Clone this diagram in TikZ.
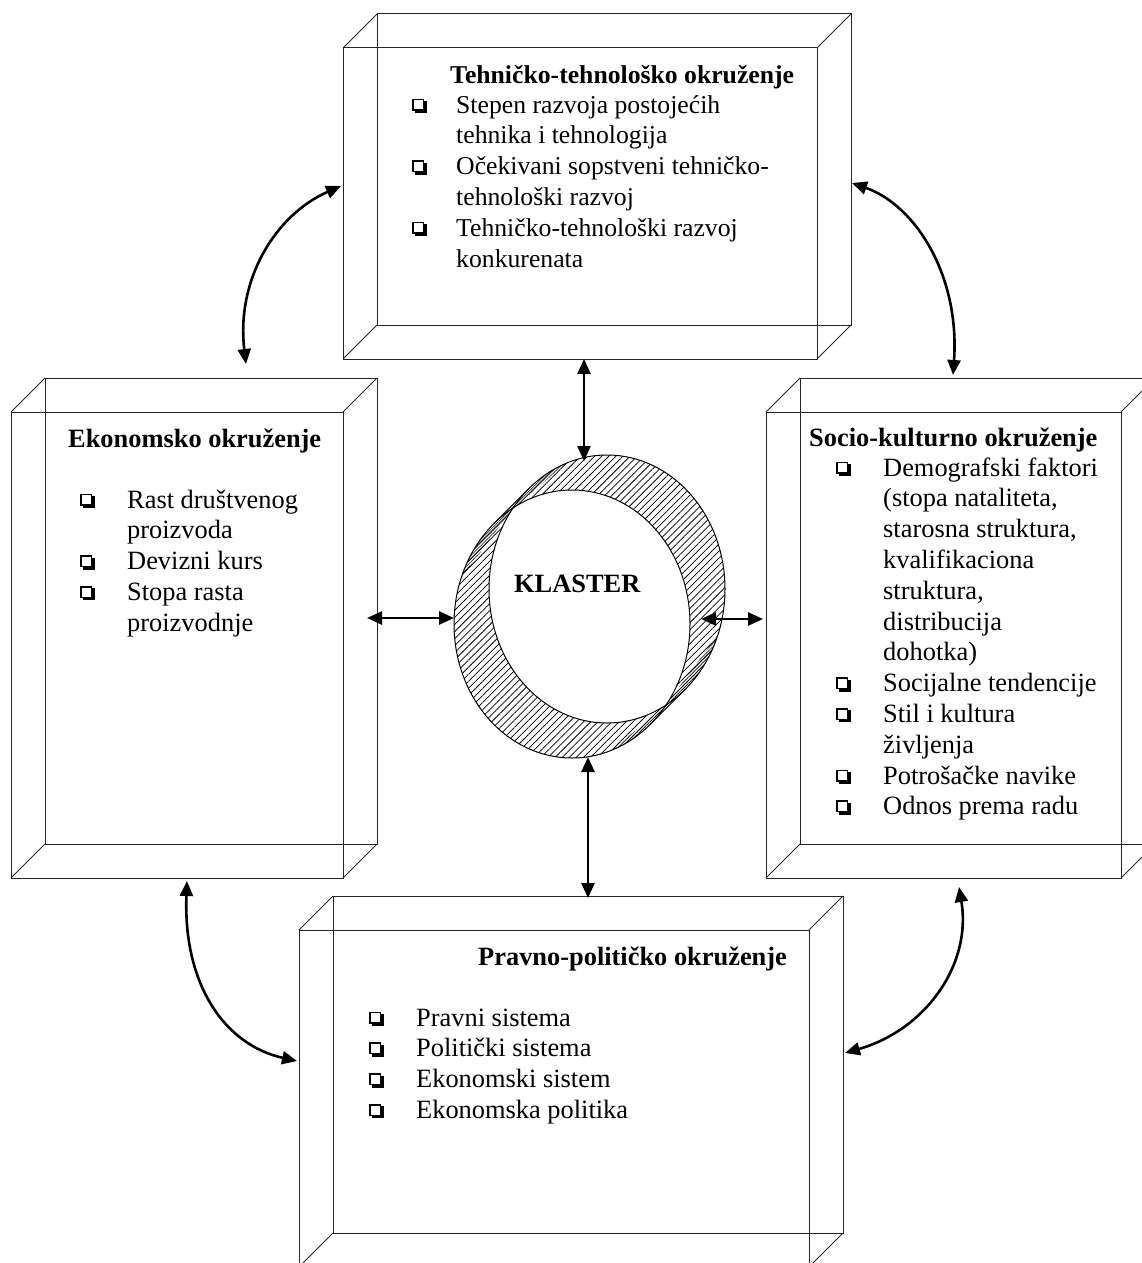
\documentclass[tikz,border=0pt]{standalone}
\usepackage{fontspec}
\setmainfont{Liberation Serif}
\usetikzlibrary{arrows.meta,patterns.meta}

% hollow square bullet with a drop shadow
\newcommand\sqbul{{\setlength{\unitlength}{1pt}\begin{picture}(15,14)
\put(0,2.4){\rule{12pt}{1.5pt}}
\put(0,12.9){\rule{12pt}{1.5pt}}
\put(0,2.4){\rule{1.5pt}{12pt}}
\put(10.5,2.4){\rule{1.5pt}{12pt}}
\put(2.4,0){\rule{12.4pt}{2.6pt}}
\put(12,0){\rule{2.8pt}{12pt}}
\end{picture}}}

% bullet list: #1 = distance from bullet to text, #2 = rows
\newcommand\bulletrows[2]{\begin{tabular}[t]{@{}p{#1}@{}l@{}}#2\end{tabular}}

\begin{document}
\begin{tikzpicture}[x=1pt,y=-1pt,
  frontface/.style={draw=black!85, line width=1pt, inner sep=0pt, outer sep=0pt},
  edgeline/.style={draw=black!85, line width=1pt},
  heading/.style={anchor=base west, inner sep=0pt, font=\bfseries\fontsize{26.4}{30.8}\selectfont},
  bulletlist/.style={anchor=base west, inner sep=0pt, font=\fontsize{26.4}{30.8}\selectfont},
  link/.style={line width=2.6pt, {Triangle[length=15pt,width=13pt]}-{Triangle[length=15pt,width=13pt]}},
  hatch/.style={pattern={Lines[angle=45,distance=5pt,line width=0.75pt]}},
  densehatch/.style={pattern={Lines[angle=45,distance=2.2pt,line width=0.6pt]}},
]
\useasboundingbox (0,0) rectangle (1142,1263);
\begin{scope}
\clip (0,0) rectangle (1142,1263);

% front faces of the four boxes
\node[frontface, minimum width=474pt, minimum height=311pt] (tech) at (580,203.5) {};
\node[frontface, minimum width=332pt, minimum height=466pt] (ekon) at (177,645) {};
\node[frontface, minimum width=355pt, minimum height=466pt] (socio) at (943.5,645) {};
\node[frontface, minimum width=510pt, minimum height=337pt] (pravno) at (554,1098.5) {};

% back faces and depth edges
\foreach \b in {tech,ekon,socio,pravno}{
  \draw[edgeline] ([shift={(34,-34)}]\b.south west) rectangle ([shift={(34,-34)}]\b.north east);
  \foreach \c in {north west,north east,south west,south east}
    \draw[edgeline] (\b.\c) -- ([shift={(34,-34)}]\b.\c);
}

% texts of the boxes
\node[heading, font=\bfseries\fontsize{25.7}{30.8}\selectfont] (techT) at (450,83) {Tehničko-tehnološko okruženje};
\node[bulletlist, font=\fontsize{25.7}{30.8}\selectfont] (techL) at (412,113) {\bulletrows{44pt}{%
\sqbul & Stepen razvoja postojećih\\
 & tehnika i tehnologija\\
\sqbul & Očekivani sopstveni tehničko-\\
 & tehnološki razvoj\\
\sqbul & Tehničko-tehnološki razvoj\\
 & konkurenata}};

\node[heading] (ekonT) at (68,447) {Ekonomsko okruženje};
\node[bulletlist] (ekonL) at (80,508) {\bulletrows{47pt}{%
\sqbul & Rast društvenog\\
 & proizvoda\\
\sqbul & Devizni kurs\\
\sqbul & Stopa rasta\\
 & proizvodnje}};

\node[heading] (socioT) at (809,446) {Socio-kulturno okruženje};
\node[bulletlist] (socioL) at (836,476) {\bulletrows{47pt}{%
\sqbul & Demografski faktori\\
 & (stopa nataliteta,\\
 & starosna struktura,\\
 & kvalifikaciona\\
 & struktura,\\
 & distribucija\\
 & dohotka)\\
\sqbul & Socijalne tendencije\\
\sqbul & Stil i kultura\\
 & življenja\\
\sqbul & Potrošačke navike\\
\sqbul & Odnos prema radu}};

\node[heading] (pravnoT) at (478,965) {Pravno-političko okruženje};
\node[bulletlist] (pravnoL) at (369,1026) {\bulletrows{47pt}{%
\sqbul & Pravni sistema\\
\sqbul & Politički sistema\\
\sqbul & Ekonomski sistem\\
\sqbul & Ekonomska politika}};

% the cluster ring: an extruded hoop, front rim A and back rim B offset by the depth
\path[hatch, even odd rule]
  (607,589) ellipse [x radius=118, y radius=134]
  (572,624) ellipse [x radius=118, y radius=134];
% foreshortened wall where the rims cross (upper left and lower right)
\path[densehatch]
  plot[domain=250:228.63, samples=25] ({607+118*cos(\x)},{589+134*sin(\x)})
  -- plot[domain=228.63:200, samples=25] ({572+118*cos(\x)},{624+134*sin(\x)})
  -- (513.1,508) -- cycle;
\path[densehatch]
  plot[domain=70:48.63, samples=25] ({572+118*cos(\x)},{624+134*sin(\x)})
  -- plot[domain=48.63:20, samples=25] ({607+118*cos(\x)},{589+134*sin(\x)})
  -- (665.9,705) -- cycle;
\draw[line width=1pt] (607,589) ellipse [x radius=118, y radius=134];
\draw[line width=1pt] (572,624) ellipse [x radius=118, y radius=134];
% outer contour of the side wall
\draw[line width=1pt] (529.0,488.5) -- (494.0,523.5);
\draw[line width=1pt] (685.0,689.5) -- (650.0,724.5);
\node[heading] (klaster) at (514,592) {KLASTER};

% connector end points
\coordinate (techS) at (584,359);
\coordinate (ringN) at (584,461);
\coordinate (ringS) at (588,757);
\coordinate (pravnoN) at (588,898);
\coordinate (ekonE) at (367,618);
\coordinate (ringW) at (454,618);
\coordinate (ringE) at (701,619);
\coordinate (socioW) at (763,619);
\coordinate (ekonN) at (246,364);
\coordinate (techW) at (341,186);
\coordinate (techE) at (852,183);
\coordinate (socioN) at (953,375);
\coordinate (ekonS) at (187,881);
\coordinate (pravnoW) at (297,1061);
\coordinate (socioS) at (959,887);
\coordinate (pravnoE) at (845,1053);

% straight links to the cluster
\draw[link] (techS) -- (ringN);
\draw[link] (ringS) -- (pravnoN);
\draw[link] (ekonE) -- (ringW);
\draw[link] (ringE) -- (socioW);

% curved links between neighbouring boxes
\draw[link] (ekonN) .. controls (236,280) and (275,215) .. (techW);
\draw[link] (techE) .. controls (915,205) and (960,275) .. (socioN);
\draw[link] (ekonS) .. controls (183,985) and (225,1045) .. (pravnoW);
\draw[link] (socioS) .. controls (972,965) and (925,1030) .. (pravnoE);
\end{scope}
\end{tikzpicture}
\end{document}
